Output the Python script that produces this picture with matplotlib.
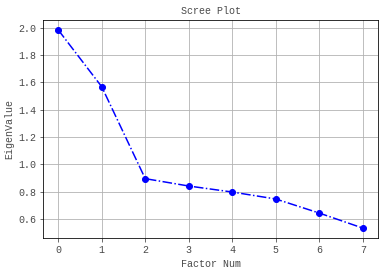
import matplotlib
matplotlib.use('Agg')
import matplotlib.pyplot as plt

factors = [0, 1, 2, 3, 4, 5, 6, 7]
eigenvalues = [1.985, 1.569, 0.896, 0.842, 0.798, 0.747, 0.644, 0.534]

plt.rcParams['font.family'] = ['Liberation Mono', 'DejaVu Sans']
plt.rcParams['text.color'] = '#4a4a4a'
plt.rcParams['xtick.color'] = '#4a4a4a'
plt.rcParams['ytick.color'] = '#4a4a4a'
plt.rcParams['axes.labelcolor'] = '#4a4a4a'

fig = plt.figure(figsize=(388 / 72, 276 / 72), dpi=72)
ax = fig.add_axes([43 / 388, 1 - 238 / 276, 335 / 388, 218 / 276])

ax.plot(factors, eigenvalues, 'bo-.', markersize=6, linewidth=1.5)
ax.set_title('Scree Plot', fontsize=10)
ax.set_xlabel('Factor Num', fontsize=10)
ax.set_ylabel('EigenValue', fontsize=10)
ax.tick_params(labelsize=10)
ax.grid(True)

fig.savefig('out.png', dpi=72)
